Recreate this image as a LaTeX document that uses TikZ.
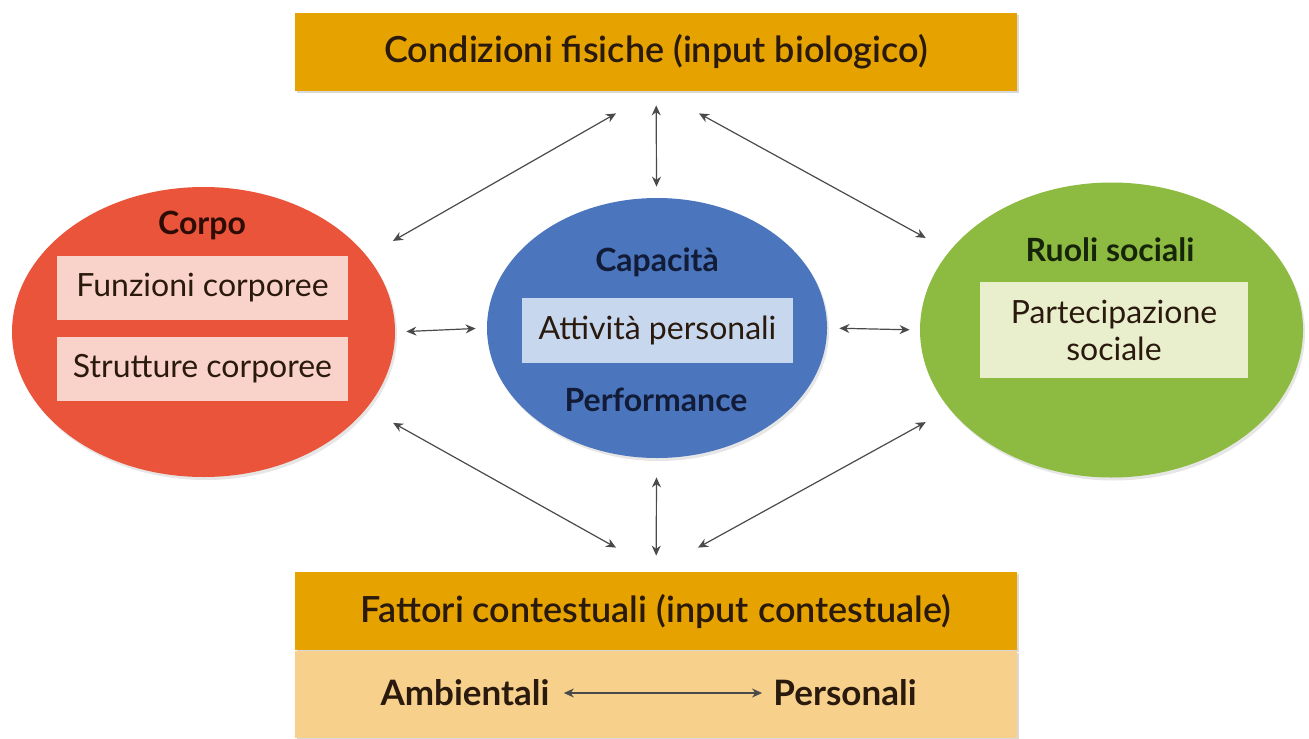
\documentclass[tikz,border=0pt]{standalone}
\usepackage{fontspec}
\setmainfont{Lato}
\newfontfamily\barfont{Lato Semibold}
\usetikzlibrary{positioning,shapes.geometric,arrows.meta,shadows}

\definecolor{barorange}{HTML}{E6A300}
\definecolor{barlight}{HTML}{F7D08C}
\definecolor{corpored}{HTML}{E9543A}
\definecolor{corpopink}{HTML}{F9D2C9}
\definecolor{capblue}{HTML}{4B76BD}
\definecolor{capsky}{HTML}{C7D7EE}
\definecolor{ruoligreen}{HTML}{8DBA40}
\definecolor{ruolipale}{HTML}{E9EECD}
\definecolor{inkdark}{HTML}{2A1A0E}
\definecolor{corpoink}{HTML}{2E0C06}
\definecolor{capink}{HTML}{121C38}
\definecolor{ruoliink}{HTML}{16240A}
\definecolor{linkgray}{HTML}{4A4A4A}

\begin{document}
\begin{tikzpicture}[x=0.5pt, y=-0.5pt]
        \tikzstyle{every node}=[inner sep=0pt, text=inkdark]
        \tikzstyle{bar}=[fill=barorange, minimum width=361pt, minimum height=39pt, font=\barfont\fontsize{18}{22}\selectfont, drop shadow={shadow xshift=1pt, shadow yshift=-1pt, opacity=.3}]
        \tikzstyle{blob}=[ellipse, drop shadow={shadow xshift=1pt, shadow yshift=-1.5pt, opacity=.2}]
        \tikzstyle{blobtitle}=[font=\fontsize{16}{19}\selectfont\bfseries]
        \tikzstyle{inbox}=[minimum width=145.5pt, minimum height=32pt, align=center, font=\fontsize{16}{18.5}\selectfont]
        \tikzstyle{link}=[<->, >={Stealth[length=5pt,width=4.5pt]}, draw=linkgray, line width=.6pt]

        \useasboundingbox (0,0) rectangle (1309,738);

% top and bottom bars
        \node[bar] (cond) at (656,52) {Condizioni fisiche (input biologico)};
        \node[bar] (fatt) at (656,611) {Fattori contestuali (input contestuale)};
        \node[bar, fill=barlight, minimum height=43.5pt, below=0pt of fatt] (fattband) {};
        \node[font=\fontsize{17.5}{20}\selectfont\bfseries] (amb) at (465,693) {Ambientali};
        \node[font=\fontsize{17.5}{20}\selectfont\bfseries] (pers) at (845,693) {Personali};

% the three ellipses
        \node[blob, fill=corpored, minimum width=191.5pt, minimum height=145pt] (corpo) at (203.5,332) {};
        \node[blob, fill=capblue, minimum width=170pt, minimum height=130pt] (capac) at (657,328) {};
        \node[blob, fill=ruoligreen, minimum width=191.5pt, minimum height=147.5pt] (ruoli) at (1111.5,330) {};

        \node[blobtitle, text=corpoink] (corpoT) at (202,225) {Corpo};
        \node[inbox, fill=corpopink] (funz) at (202.5,288) {Funzioni corporee};
        \node[inbox, fill=corpopink] (strut) at (202.5,368.5) {Strutture corporee};

        \node[blobtitle, text=capink] (capT) at (657,262) {Capacità};
        \node[inbox, fill=capsky, minimum width=135.5pt, minimum height=32.5pt] (attiv) at (657.5,330.5) {Attività personali};
        \node[blobtitle, text=capink] (perf) at (656,400) {Performance};

        \node[blobtitle, text=ruoliink] (ruoliT) at (1110,250) {Ruoli sociali};
        \node[inbox, fill=ruolipale, minimum width=134pt, minimum height=48pt] (partec) at (1114,330) {Partecipazione\\sociale};

% connectors
        \draw[link, shorten <=7pt, shorten >=5.5pt] (cond) -- (capac);
        \draw[link, shorten <=9.5pt, shorten >=8pt] (capac) -- (fatt);
        \draw[link, shorten <=5.5pt, shorten >=5.5pt] (corpo.east) -- (capac.west);
        \draw[link, shorten <=6pt, shorten >=5pt] (capac.east) -- (ruoli.west);
        \draw[link, shorten >=15pt] ([xshift=-20pt,yshift=-11pt]cond.south) -- (corpo.25);
        \draw[link, shorten >=13.5pt] ([xshift=21.5pt,yshift=-11pt]cond.south) -- (ruoli.154);
        \draw[link, shorten <=15pt] (corpo.-25) -- ([xshift=-20pt,yshift=12pt]fatt.north);
        \draw[link, shorten <=13.5pt] (ruoli.-154) -- ([xshift=21pt,yshift=12pt]fatt.north);
        \draw[link, shorten <=7pt, shorten >=5.5pt] (amb) -- (pers);

    \end{tikzpicture}
\end{document}
